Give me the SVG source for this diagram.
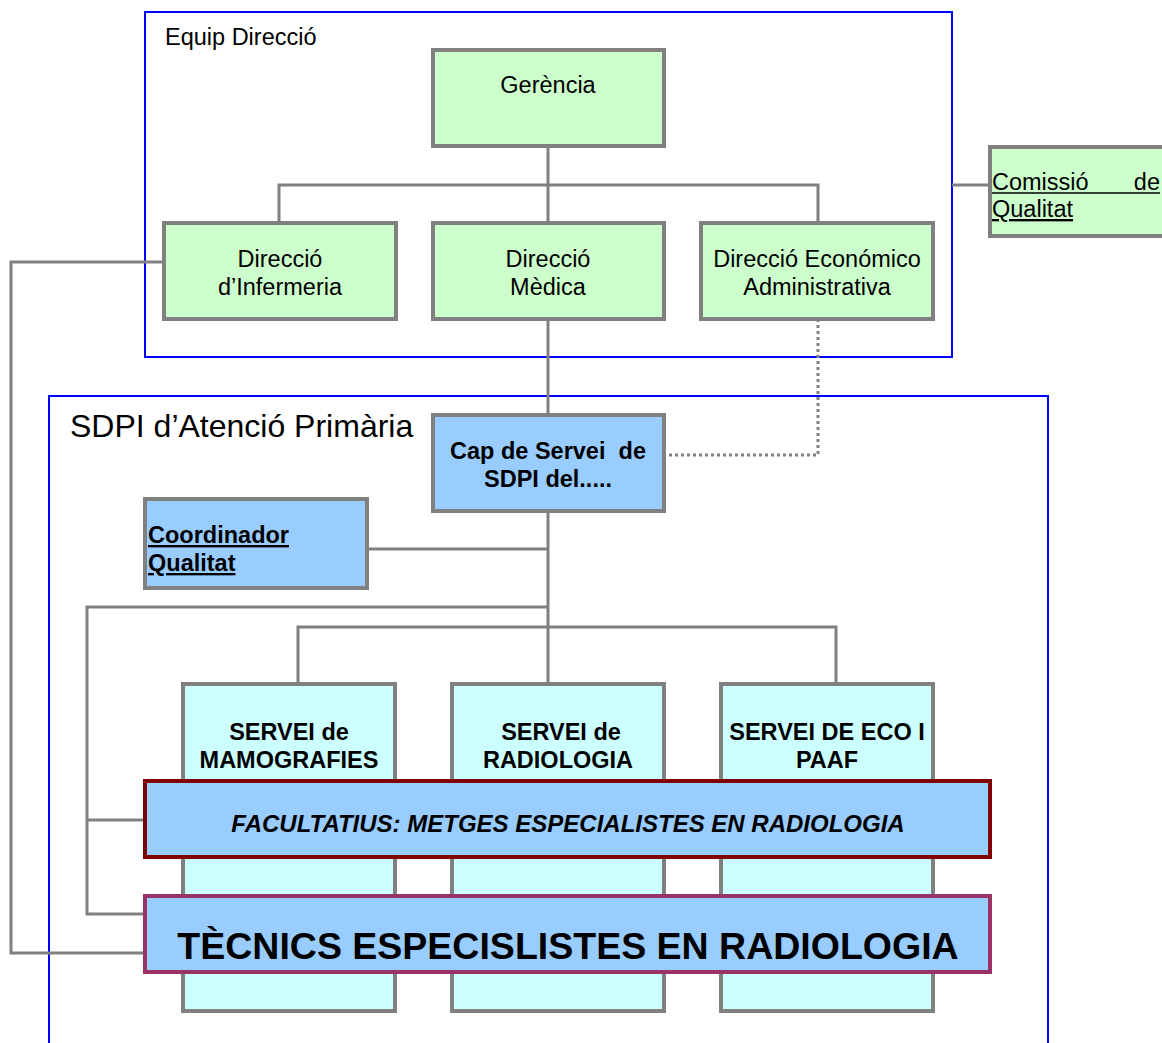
<svg xmlns="http://www.w3.org/2000/svg" width="1162" height="1043" viewBox="0 0 1162 1043">
  <style>
    text { font-family: "Liberation Sans", Arial, sans-serif; fill: #000; font-size: 23.5px; }
    .frame { fill: none; stroke: #0000ff; stroke-width: 2; }
    .green { fill: #ccffcc; stroke: #808080; stroke-width: 4; }
    .blue { fill: #99ccff; stroke: #808080; stroke-width: 4; }
    .cyan { fill: #ccffff; stroke: #808080; stroke-width: 4; }
    .link { fill: none; stroke: #808080; stroke-width: 3; }
    .dot { fill: none; stroke: #808080; stroke-width: 3; stroke-dasharray: 3 3; }
    .ul { stroke: #000; stroke-width: 1.5; }
    .n { text-anchor: middle; }
    .b { font-weight: bold; text-anchor: middle; }
  </style>

  <!-- containers -->
  <g id="equip-direccio">
    <rect class="frame" x="145" y="12" width="807" height="345"/>
    <text x="165" y="45">Equip Direcció</text>
  </g>
  <g id="sdpi">
    <rect class="frame" x="49" y="396" width="999" height="660"/>
    <text x="70" y="437" style="font-size:32px">SDPI d’Atenció Primària</text>
  </g>

  <!-- connectors -->
  <g id="connectors">
    <path class="link" d="M548 146 V223 M279 223 V185 H818 V223"/>
    <path class="link" d="M952 185 H990"/>
    <path class="link" d="M548 319 V415"/>
    <path class="dot" d="M818 319 V455 H664"/>
    <path class="link" d="M164 262 H11 V953 H145"/>
    <path class="link" d="M548 511 V684 M367 549 H548"/>
    <path class="link" d="M548 607 H87 V914 H145 M87 820 H145"/>
    <path class="link" d="M298 684 V627 H836 V684"/>
  </g>

  <!-- management nodes -->
  <g id="gerencia">
    <rect class="green" x="433" y="50" width="231" height="96"/>
    <text class="n" x="548" y="93">Gerència</text>
  </g>
  <g id="direccio-infermeria">
    <rect class="green" x="164" y="223" width="232" height="96"/>
    <text class="n" x="280" y="267">Direcció</text>
    <text class="n" x="280" y="295">d’Infermeria</text>
  </g>
  <g id="direccio-medica">
    <rect class="green" x="433" y="223" width="231" height="96"/>
    <text class="n" x="548" y="267">Direcció</text>
    <text class="n" x="548" y="295">Mèdica</text>
  </g>
  <g id="direccio-economico">
    <rect class="green" x="701" y="223" width="232" height="96"/>
    <text class="n" x="817" y="267">Direcció Económico</text>
    <text class="n" x="817" y="295">Administrativa</text>
  </g>
  <g id="comissio-qualitat">
    <rect class="green" x="990" y="147" width="178" height="89"/>
    <text x="992" y="190">Comissió</text>
    <text x="1160" y="190" style="text-anchor:end">de</text>
    <line class="ul" x1="992" y1="193" x2="1160" y2="193"/>
    <text x="992" y="217" style="text-decoration:underline">Qualitat</text>
  </g>

  <!-- SDPI nodes -->
  <g id="cap-servei">
    <rect class="blue" x="433" y="415" width="231" height="96"/>
    <text class="b" x="548" y="459" style="white-space:pre">Cap de Servei  de</text>
    <text class="b" x="548" y="487">SDPI del.....</text>
  </g>
  <g id="coordinador-qualitat">
    <rect class="blue" x="145" y="499" width="222" height="89"/>
    <text x="148" y="543" style="font-weight:bold;text-decoration:underline">Coordinador</text>
    <text x="148" y="571" style="font-weight:bold;text-decoration:underline">Qualitat</text>
  </g>
  <g id="servei-mamografies">
    <rect class="cyan" x="183" y="684" width="212" height="327"/>
    <text class="b" x="289" y="740">SERVEI de</text>
    <text class="b" x="289" y="768">MAMOGRAFIES</text>
  </g>
  <g id="servei-radiologia">
    <rect class="cyan" x="452" y="684" width="212" height="327"/>
    <text class="b" x="561" y="740">SERVEI de</text>
    <text class="b" x="558" y="768">RADIOLOGIA</text>
  </g>
  <g id="servei-eco">
    <rect class="cyan" x="721" y="684" width="212" height="327"/>
    <text class="b" x="827" y="740">SERVEI DE ECO I</text>
    <text class="b" x="827" y="768">PAAF</text>
  </g>
  <g id="facultatius">
    <rect x="145" y="781" width="845" height="76" fill="#99ccff" stroke="#800000" stroke-width="4"/>
    <text x="568" y="832" style="font-size:24px;font-weight:bold;font-style:italic;text-anchor:middle">FACULTATIUS: METGES ESPECIALISTES EN RADIOLOGIA</text>
  </g>
  <g id="tecnics">
    <rect x="145" y="896" width="845" height="76" fill="#99ccff" stroke="#993366" stroke-width="4"/>
    <text x="568" y="959" style="font-size:37.5px;font-weight:bold;text-anchor:middle">TÈCNICS ESPECISLISTES EN RADIOLOGIA</text>
  </g>
</svg>
